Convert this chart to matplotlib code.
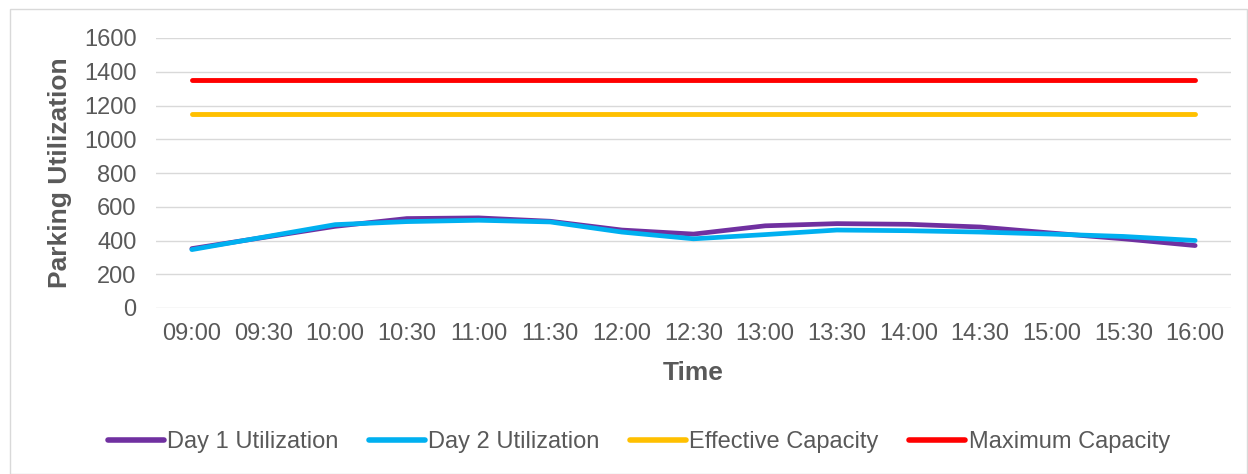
import matplotlib
matplotlib.use("Agg")
import matplotlib.pyplot as plt
from matplotlib.patches import Rectangle

times = ["09:00", "09:30", "10:00", "10:30", "11:00", "11:30", "12:00", "12:30",
         "13:00", "13:30", "14:00", "14:30", "15:00", "15:30", "16:00"]
day1 = [352, 418, 484, 530, 534, 514, 462, 438, 487, 500, 496, 480, 444, 410, 370]
day2 = [346, 420, 494, 512, 520, 510, 450, 410, 435, 462, 458, 450, 438, 424, 400]
effective_capacity = [1150] * len(times)
maximum_capacity = [1350] * len(times)
y_ticks = [0, 200, 400, 600, 800, 1000, 1200, 1400, 1600]

plt.rcParams['font.family'] = ['Liberation Sans', 'DejaVu Sans']
txt = '#595959'

fig = plt.figure(figsize=(12.48, 4.74), dpi=100)
ax = fig.add_axes([156/1248, 1 - 308/474, (1231-156)/1248, (308-38)/474])

x = list(range(len(times)))
ax.plot(x, day1, color='#7030A0', lw=3.4, solid_capstyle='round', solid_joinstyle='round', label='Day 1 Utilization', zorder=3)
ax.plot(x, day2, color='#00B0F0', lw=3.4, solid_capstyle='round', solid_joinstyle='round', label='Day 2 Utilization', zorder=4)
ax.plot(x, effective_capacity, color='#FFC000', lw=3.5, solid_capstyle='round', label='Effective Capacity', zorder=3)
ax.plot(x, maximum_capacity, color='#FF0000', lw=3.5, solid_capstyle='round', label='Maximum Capacity', zorder=3)

ax.set_xlim(-0.5, len(times) - 0.5)
ax.set_ylim(0, 1600)
ax.set_yticks(y_ticks)
ax.set_xticks(x)
ax.set_xticklabels(times)
ax.grid(axis='y', color='#D9D9D9', lw=1)
ax.set_axisbelow(True)
for s in ax.spines.values():
    s.set_visible(False)
ax.tick_params(axis='both', length=0, labelsize=17, colors=txt)
ax.tick_params(axis='y', pad=14)
ax.tick_params(axis='x', pad=11)
ax.set_xlabel('Time', fontsize=19, fontweight='bold', color=txt, va='center')
ax.xaxis.set_label_coords(0.5, -0.241)
ax.set_ylabel('Parking Utilization', fontsize=19, fontweight='bold', color=txt, va='center')
ax.yaxis.set_label_coords(-0.0893, 0.5)

leg = fig.legend(loc='center', bbox_to_anchor=(0.512, 1 - 442/474), ncol=4, frameon=False,
                 fontsize=17, handlelength=2.37, handletextpad=0.13, columnspacing=1.3)
for t in leg.get_texts():
    t.set_color(txt)
for h in leg.get_lines():
    h.set_linewidth(4)

fig.patches.append(Rectangle((10/1248, 0), 1 - 11/1248, 1 - 9/474, transform=fig.transFigure,
                             fill=False, edgecolor='#D9D9D9', lw=1))

fig.savefig('out.png', dpi=100)
